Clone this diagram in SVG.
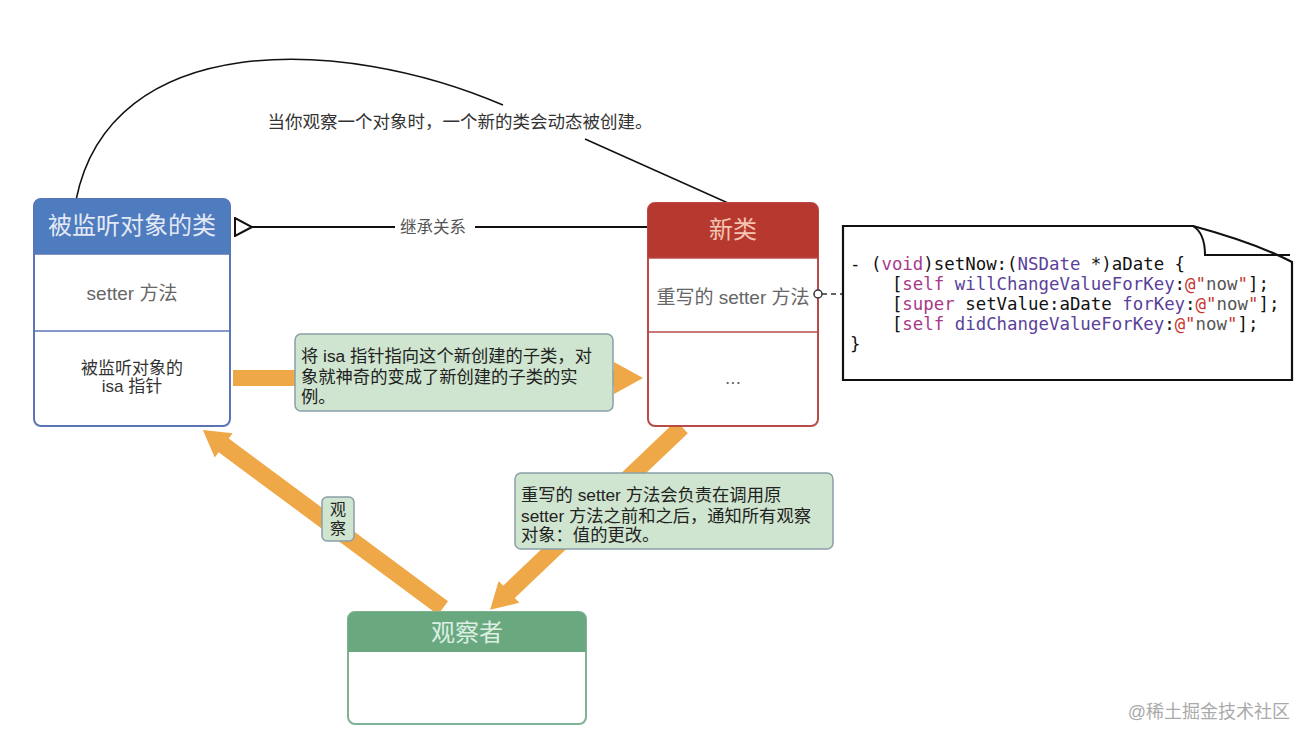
<svg xmlns="http://www.w3.org/2000/svg" width="1312" height="742" viewBox="0 0 1312 742">
<style>
text{font-family:"Liberation Sans","Noto Sans CJK SC",sans-serif;}
.hdr{font-size:24px;text-anchor:middle;dominant-baseline:central;}
.body{font-size:19px;fill:#666;text-anchor:middle;dominant-baseline:central;}
.note{fill:#cfe5cf;stroke:#8a9fa8;stroke-width:1.5;}
.nt{font-size:17.3px;fill:#222;}
.arr{fill:#efa847;}
.code{font-family:"DejaVu Sans Mono","Liberation Mono",monospace;font-size:17.4px;fill:#111;white-space:pre;}
.kw{fill:#a8398a;}
.fn{fill:#5b3f9a;}
.st{fill:#c5352c;}
.sn{fill:#555;}
</style>
<defs>
<marker id="tri" markerWidth="20" markerHeight="20" refX="1" refY="10" orient="auto" markerUnits="userSpaceOnUse">
<path d="M1,10 L18,1 L18,19 Z" fill="#fff" stroke="#111" stroke-width="2"/>
</marker>
</defs>
<rect width="1312" height="742" fill="#fff"/>

<g id="connectors">
<path d="M76,200 C110,30 340,35 503,105" fill="none" stroke="#111" stroke-width="1.5"/>
<line x1="585" y1="139" x2="728" y2="203" stroke="#111" stroke-width="1.5"/>
<text x="460" y="128" font-size="17.5" fill="#333" text-anchor="middle">当你观察一个对象时，一个新的类会动态被创建。</text>
<line x1="395" y1="227" x2="252" y2="227" stroke="#111" stroke-width="2" marker-end="url(#tri)"/>
<line x1="475" y1="227" x2="648" y2="227" stroke="#111" stroke-width="2"/>
<text x="433" y="227" font-size="16.5" fill="#555" text-anchor="middle" dominant-baseline="central">继承关系</text>
<line x1="822" y1="294" x2="843" y2="294" stroke="#333" stroke-width="1.5" stroke-dasharray="5,4"/>
<polygon class="arr" points="233,370 614,370 614,362 643,378 614,394 614,386 233,386"/>
<polygon class="arr" transform="translate(443,608) rotate(-143.44)" points="0,-8.5 273,-8.5 273,-15 299,0 273,15 273,8.5 0,8.5"/>
<polygon class="arr" transform="translate(682,427) rotate(136.38)" points="0,-8.5 239,-8.5 239,-15 265,0 239,15 239,8.5 0,8.5"/>
</g>

<g id="observed-class">
<rect x="34" y="199" width="196" height="227" rx="7" fill="#fff" stroke="#5a74b6" stroke-width="2"/>
<path d="M34,254 V206 A7,7 0 0 1 41,199 H223 A7,7 0 0 1 230,206 V254 Z" fill="#4f7bbf"/>
<line x1="34" y1="254" x2="230" y2="254" stroke="#5a74b6" stroke-width="1.5"/>
<line x1="34" y1="331" x2="230" y2="331" stroke="#5a74b6" stroke-width="1.5"/>
<text class="hdr" x="132" y="225" fill="#e3e9f5">被监听对象的类</text>
<text class="body" x="132" y="293">setter 方法</text>
<text x="132" y="368" font-size="17" fill="#333" text-anchor="middle" dominant-baseline="central">被监听对象的</text>
<text x="132" y="386" font-size="17" fill="#333" text-anchor="middle" dominant-baseline="central">isa 指针</text>
</g>

<g id="new-class">
<rect x="648" y="203" width="170" height="223" rx="7" fill="#fff" stroke="#b84a48" stroke-width="2"/>
<path d="M648,258 V210 A7,7 0 0 1 655,203 H811 A7,7 0 0 1 818,210 V258 Z" fill="#b7382f"/>
<line x1="648" y1="258" x2="818" y2="258" stroke="#b84a48" stroke-width="1.5"/>
<line x1="648" y1="332" x2="818" y2="332" stroke="#b84a48" stroke-width="1.5"/>
<text class="hdr" x="733" y="229" fill="#f3c6b3">新类</text>
<text class="body" x="733" y="297">重写的 setter 方法</text>
<text class="body" x="733" y="377">...</text>
<circle cx="818" cy="294" r="4" fill="#fff" stroke="#333" stroke-width="1.5"/>
</g>

<g id="code-note">
<path d="M843,226 H1193 C1230,236 1265,248 1292,262 V380 H843 Z" fill="#fff" stroke="#111" stroke-width="2.2"/>
<path d="M1193,226 C1203,232 1205,244 1205,255 H1290" fill="none" stroke="#111" stroke-width="2"/>
<text class="code" x="850" y="270">- (<tspan class="kw">void</tspan>)setNow:(<tspan class="fn">NSDate</tspan> *)aDate {</text>
<text class="code" x="850" y="290">    [<tspan class="kw">self</tspan> <tspan class="fn">willChangeValueForKey</tspan>:<tspan class="st">@"</tspan><tspan class="sn">now</tspan><tspan class="st">"</tspan>];</text>
<text class="code" x="850" y="310">    [<tspan class="kw">super</tspan> setValue:aDate <tspan class="fn">forKey</tspan>:<tspan class="st">@"</tspan><tspan class="sn">now</tspan><tspan class="st">"</tspan>];</text>
<text class="code" x="850" y="330">    [<tspan class="kw">self</tspan> <tspan class="fn">didChangeValueForKey</tspan>:<tspan class="st">@"</tspan><tspan class="sn">now</tspan><tspan class="st">"</tspan>];</text>
<text class="code" x="850" y="350">}</text>
</g>

<g id="note-isa">
<rect class="note" x="295" y="334" width="318" height="77" rx="6"/>
<text class="nt" x="301" y="362">将 isa 指针指向这个新创建的子类，对</text>
<text class="nt" x="301" y="383">象就神奇的变成了新创建的子类的实</text>
<text class="nt" x="301" y="403">例。</text>
</g>

<g id="note-setter">
<rect class="note" x="515" y="473" width="318" height="76" rx="6"/>
<text class="nt" x="521" y="501">重写的 setter 方法会负责在调用原</text>
<text class="nt" x="521" y="522">setter 方法之前和之后，通知所有观察</text>
<text class="nt" x="521" y="541">对象：值的更改。</text>
</g>

<g id="label-observe">
<rect class="note" x="322" y="497" width="32" height="44" rx="5"/>
<text x="338" y="509" font-size="16" fill="#222" text-anchor="middle" dominant-baseline="central">观</text>
<text x="338" y="528" font-size="16" fill="#222" text-anchor="middle" dominant-baseline="central">察</text>
</g>

<g id="observer">
<rect x="348" y="612" width="238" height="112" rx="7" fill="#fff" stroke="#7fb393" stroke-width="2"/>
<path d="M348,652 V619 A7,7 0 0 1 355,612 H579 A7,7 0 0 1 586,619 V652 Z" fill="#6aa980"/>
<text class="hdr" x="467" y="632" fill="#dcefe2">观察者</text>
</g>

<text x="1290" y="718" font-size="18" fill="#aaa" text-anchor="end">@稀土掘金技术社区</text>
</svg>
